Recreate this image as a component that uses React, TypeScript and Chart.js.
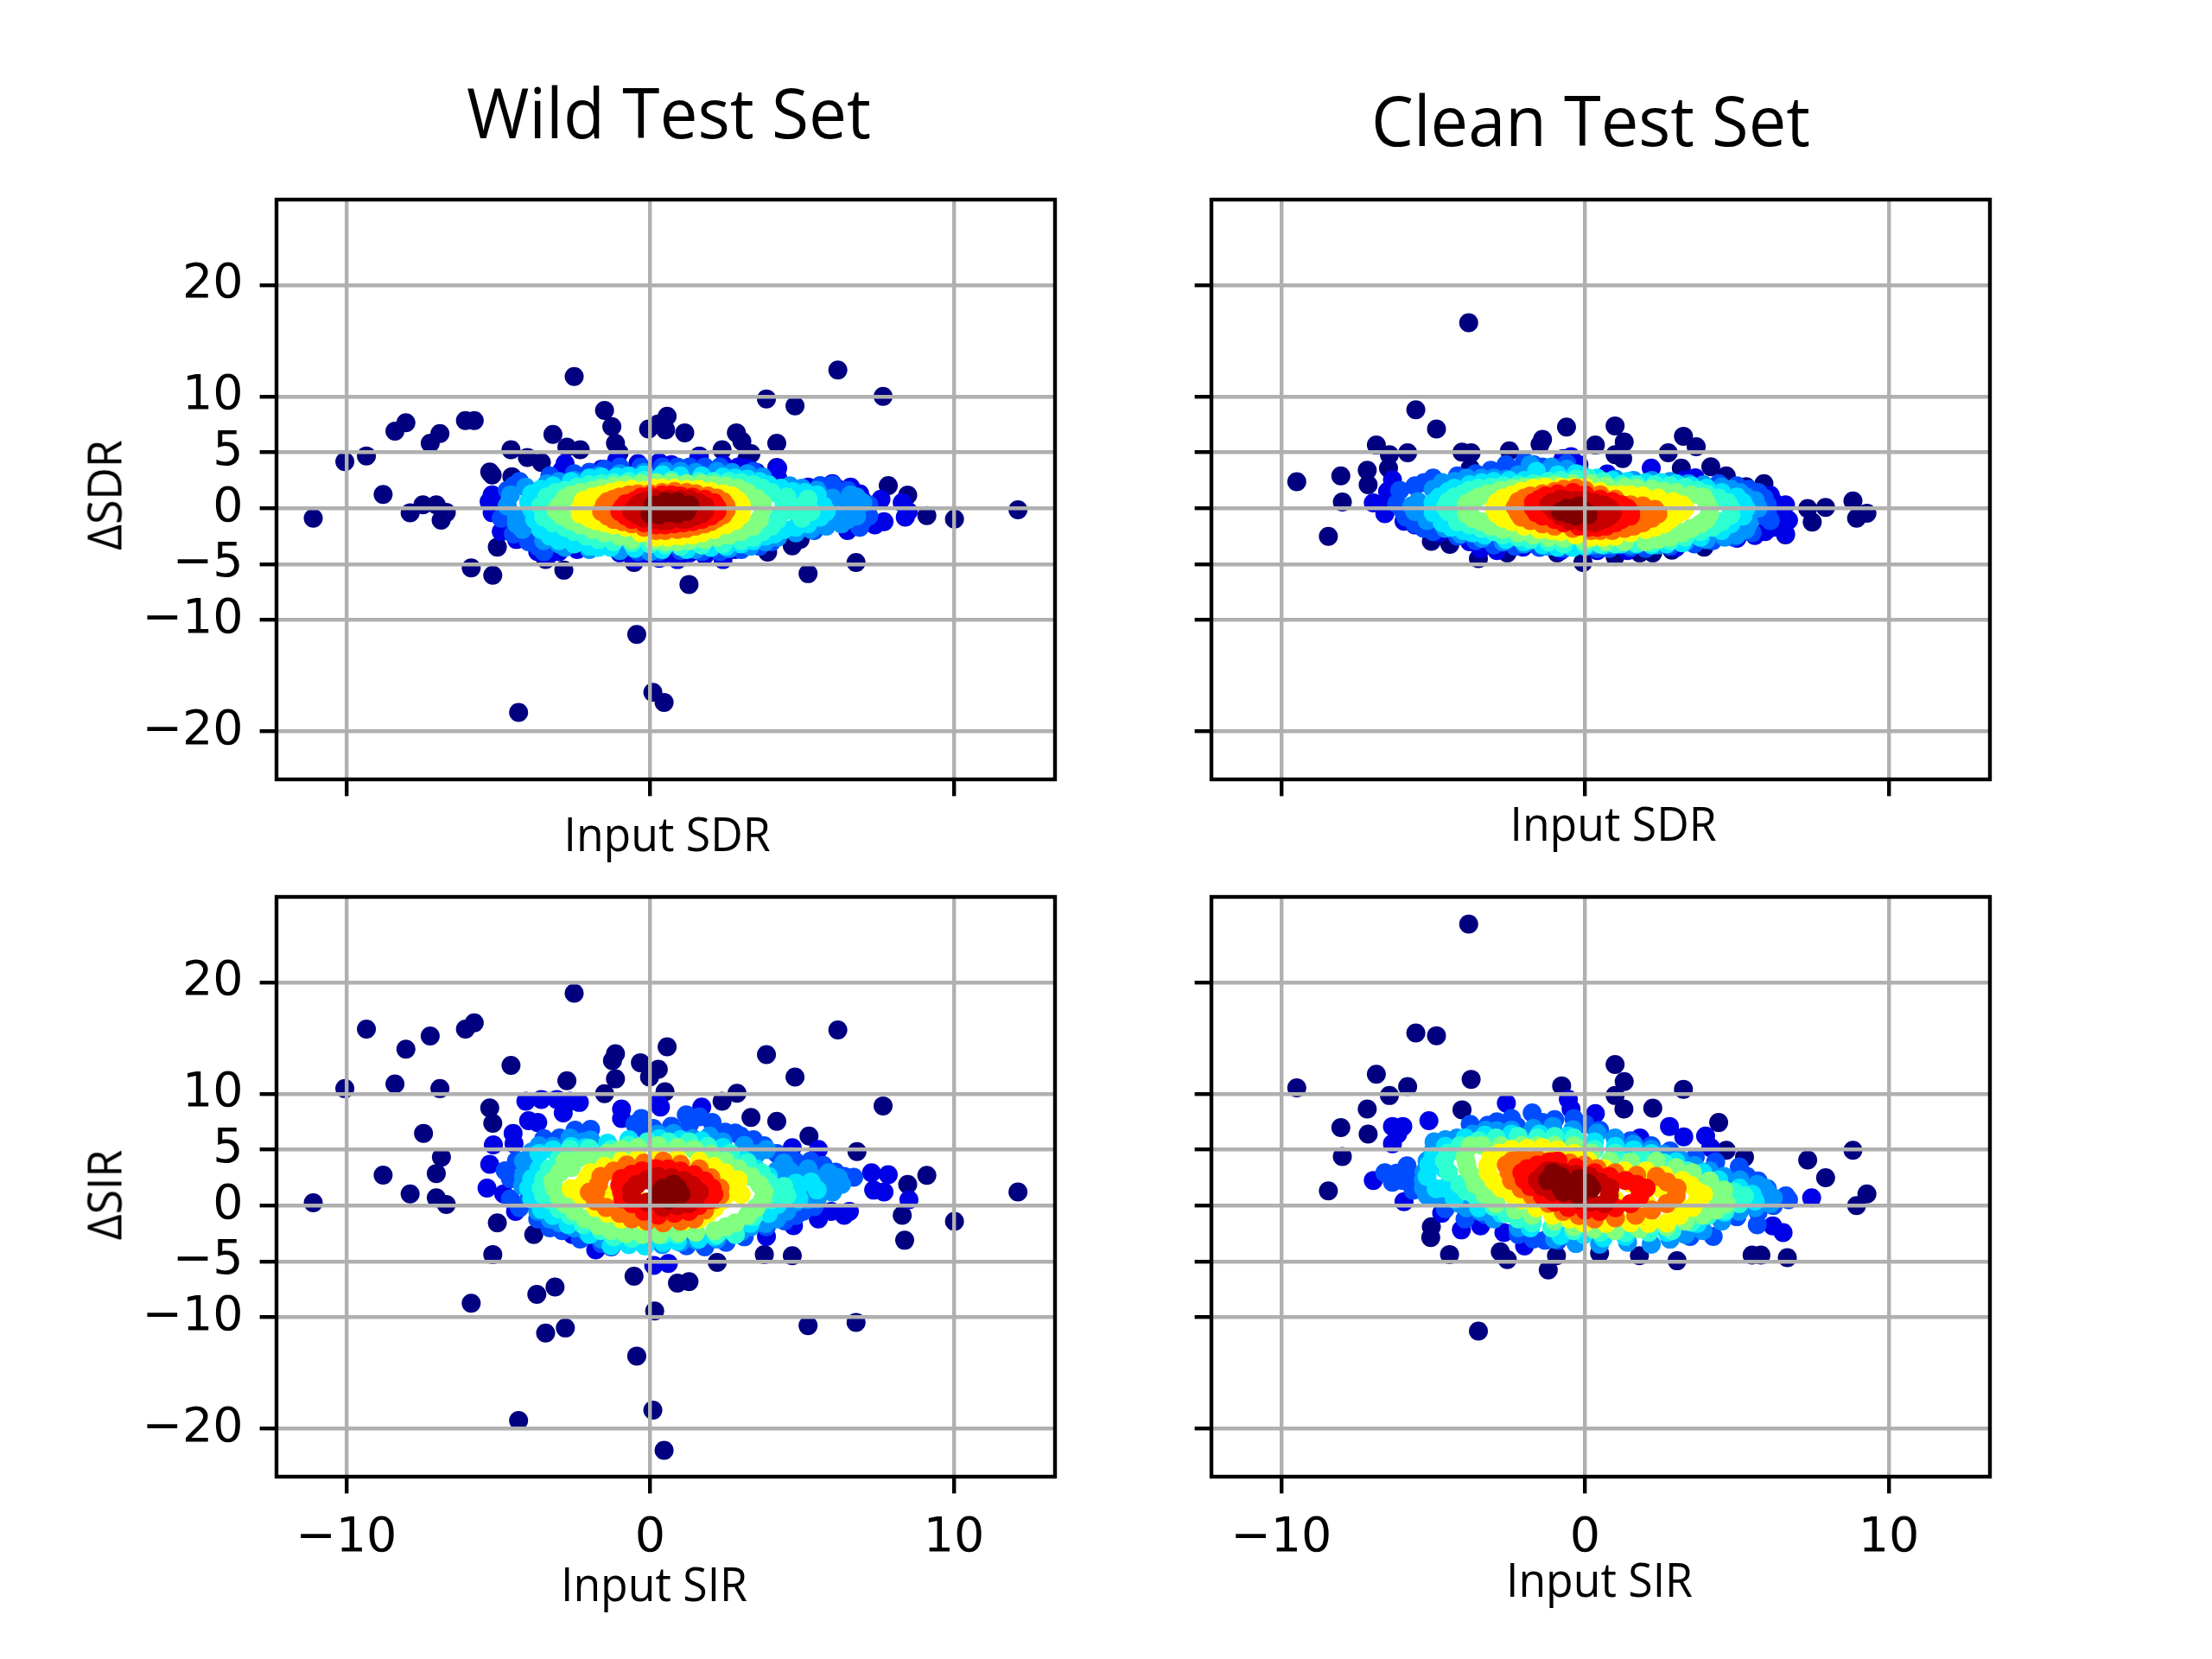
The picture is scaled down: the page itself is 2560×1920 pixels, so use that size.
import React, { useEffect, useRef } from "react";
import { Chart, registerables } from "chart.js";

Chart.register(...registerables);

const xTicks = [-10, 0, 10];
const yTicks = [-20, -10, -5, 0, 5, 10, 20];
const xRange = [-12.3, 13.33];
const yRange = [-24.3, 27.66];
const densityLevels = [0, 0.1, 0.2, 0.27, 0.35, 0.42, 0.5, 0.63, 0.77, 0.87, 0.93, 1];

// ---------- Wild / SDR ----------
const wsd0 = [[-11.09,-.9],[12.11,-.14],[10.02,-.97],[-2.5,11.8],[6.18,12.38],[7.67,10.03],[3.83,9.8],[4.77,9.17],[-1.5,8.76],[-1.26,7.31],[-8.04,7.66],[-8.4,6.9],[-6.92,6.69],[-7.24,5.83],[-6.08,7.86],[-5.79,7.86],[-9.34,4.69],[-10.05,4.17],[-8.79,1.24],[-7.9,-.41],[-7.48,.31],[-7.04,.31],[-6.71,-.38],[-6.88,-1.07],[-4.58,5.24],[-3.2,6.62],[-2.74,5.48],[-2.3,5.24],[-4.04,4.55],[-3.58,4.1],[-.05,7.1],[.26,7.55],[.56,8.24],[.51,7.03],[1.14,6.76],[1.62,4.69],[2.37,5.24],[2.84,6.76],[3.02,6],[3.32,4.9],[3.19,4.45],[4.17,5.83],[4.17,3.66],[-1.14,5.83],[-1.02,4.97],[-5.28,3.24],[-5.2,2.97],[-4.55,2.83],[7.84,2.03],[8.48,1.17],[9.11,-.66],[6.78,-4.86],[5.2,-5.86],[4.94,-2.79],[4.68,-3.38],[3.87,-3.93],[1.28,-6.83],[-.44,-11.31],[.09,-16.5],[.46,-17.4],[-4.33,-18.3],[-5.89,-5.34],[-5.18,-6],[-5.03,-3.48],[-3.44,-4.59],[-2.84,-5.55],[-.53,-4.86],[.26,-4.34],[.9,-4.5],[2.39,-4.34]];
const wsd1 = [[-5.2,1.2],[-5.3,.6],[-5.2,-.4],[-4.9,-2.1],[-3,-3.9],[-2.4,-3.7],[-2.9,3.4],[-2.8,4],[-2,3.2],[-1.1,4.3],[.3,4.1],[.7,3.9],[1.6,4.5],[2.9,3.7],[4.2,3.6],[4.2,2.7],[5.6,2],[6,2.2],[6.2,1.7],[6.9,1.3],[7.6,.8],[7.7,-1.2],[7.4,-1.5],[8.3,.5],[8.4,-.8],[8.5,-.3],[-.5,-4.6],[.3,-4.5],[.9,-4.6],[2.4,-4.6],[1.3,-4],[-3.4,-4.4],[2.8,-3.7],[-3.7,-3.9],[-4.4,-2.8],[-1,-4],[-.1,-4.3],[1.8,-4.2],[3.2,3.6],[3.5,3.2],[2.4,3.9],[-.4,4],[-1.6,3.5],[5.2,1.9],[6.6,1.9],[7,.7],[7.1,-1.1],[6.5,-2],[3.6,-3.3]];
const wsd2 = [[-4.9,-.9],[-4.5,-2.3],[-4,-3],[-3.5,-3.9],[-3.3,2.9],[-4.3,2.4],[-2,3.2],[-1,3.7],[.4,3.7],[1.3,3.7],[2.3,3.7],[3,-3.7],[4,-3],[5.6,2],[6,2.1],[6.5,1.6],[6.9,-1.7],[7.2,.3],[7.2,-.7],[1,-3.8],[-.4,-3.9],[2.3,-3.9],[-4.4,-1.6],[-3.7,-3.4],[-2.5,3.1],[-1.5,3.5],[-.3,3.7],[.9,3.7],[1.8,3.7],[3.4,3.3],[3.6,-3.4],[-4.7,1.6],[-4.5,2],[6.6,1],[7,-1.1],[5.9,1.8],[5.4,-2],[.3,-3.9],[1.7,-3.9]];
const wsd3 = [[-4.6,1.2],[-4.4,-.8],[-4.1,1.9],[-4.2,-1.9],[-3.4,2.2],[-3.5,-2.9],[-2.8,-3.5],[-2.5,2.5],[-1,3.1],[.5,3.3],[1.5,3.2],[2.2,3.3],[3.2,3.1],[3.3,-3.4],[4.2,-2.6],[5.5,1.6],[6,.9],[6,-.5],[6.3,-1.4],[6.5,.4],[6.8,-.7],[7,.5],[6.8,1],[5.8,-1.6],[-3,2.4],[-1.7,2.9],[-.2,3.2],[1,3.3],[2.7,3.2],[3.7,2.8],[4.6,2],[5,1.8],[-3,-3.2],[-2,-3.7],[-1,-3.8],[0,-3.9],[1.5,-3.7],[2.6,-3.6],[3.8,-3],[4.8,-2.2],[5.3,-1.9],[6.5,-1],[6.6,1.2],[-4.7,.2],[-4.4,-1.4]];
const wsd4 = [[-3.9,1.3],[-3.9,-.1],[-3.6,-1.9],[-3.2,2],[-3,-2.9],[-2,2.7],[-2,-3.4],[-1.1,2.8],[-1.3,-3.5],[-.2,3],[.4,-3.7],[1,2.9],[2,-3.5],[2.4,2.8],[3,-3.2],[3.2,2.6],[3.8,-2.5],[3.9,2.1],[4.4,-1.9],[4.7,1.5],[5.2,-1.4],[5.5,1.2],[5.7,.2],[5.6,-.8],[-3.6,1.7],[-2.6,2.4],[-1.6,2.8],[-.7,2.9],[.4,3],[1.7,2.9],[2.8,2.7],[3.6,2.4],[4.3,1.8],[5.1,1.4],[-3.8,-1],[-3.3,-2.5],[-2.5,-3.2],[-1.7,-3.5],[-.5,-3.6],[1.2,-3.7],[2.5,-3.4],[3.4,-2.9],[4.1,-2.3],[4.8,-1.7],[5.8,-.3],[-4,.6]];
const wsd5 = [[-3.5,-.8],[-3.6,.2],[-3.4,1],[-2.8,1.6],[-2.8,-1.7],[-2,2.1],[-2.1,-2.5],[-1.2,2.3],[-1.2,-3],[-.2,2.5],[0,-3.2],[1,-3.4],[1.6,2.4],[2.4,-3.2],[2.6,2.4],[3.4,-2.6],[3.4,2.1],[4,-1.6],[4.3,-.5],[4.4,.5],[4,1.4],[5,.2],[5,-.9],[-3.1,1.4],[-2.4,1.9],[-1.6,2.2],[-.7,2.4],[.7,2.5],[2.1,2.4],[3,2.3],[3.7,1.8],[4.5,1],[-3.2,-1.3],[-2.5,-2.1],[-1.7,-2.8],[-.6,-3.1],[.5,-3.3],[1.7,-3.3],[3,-2.9],[3.7,-2.1],[4.2,-1],[4.7,-.2],[5.2,.8],[5.3,-.3]];
const wsd6 = [[-3,.2],[-2.9,-.7],[-2.8,.9],[-2.3,1.4],[-2.3,-1.5],[-1.6,1.8],[-1.5,-2.2],[-.8,2.1],[-.6,-2.8],[.2,2.3],[.5,-3],[1.3,-2.9],[2.2,-2.6],[3,-2.1],[3.6,-1],[3.7,0],[3.5,.9],[2.9,1.8],[2.1,2.1],[1.2,2.2],[-2.6,1.2],[-1.9,1.6],[-1.2,2],[-.3,2.2],[.7,2.3],[1.7,2.2],[2.5,2],[3.2,1.4],[3.7,.4],[3.4,-1.6],[2.6,-2.4],[1.8,-2.8],[.9,-3],[.1,-2.9],[-1,-2.5],[-1.9,-1.9],[-2.6,-1.1],[-3.1,-.2]];
const wsd7 = [[-2.3,0],[-2.2,.7],[-2,-.9],[-1.6,1.2],[-1.5,-1.3],[-1,1.6],[-.8,-1.7],[-.2,1.6],[.2,-2.6],[1,-2.5],[1.7,-2.2],[2.5,-1.5],[3,-.6],[3,.3],[2.7,1.1],[2,1.5],[1.2,1.7],[.4,1.8],[-1.9,1],[-1.3,1.4],[-.6,1.7],[.1,1.8],[.8,1.8],[1.6,1.7],[2.4,1.3],[2.9,.7],[3,-.1],[2.8,-1.1],[2.1,-1.9],[1.4,-2.4],[.6,-2.6],[-.3,-2.2],[-1.2,-1.5],[-1.8,-1.1],[-2.3,-.5],[-1.5,-.2],[-1,.3],[-1,-.7],[0,.5],[0,-1],[1,.5],[1,-1],[2,0],[2.4,-.6],[2,.7],[.5,-1.7],[1.5,-1.5]];
const wsd8 = [[-1.6,-.3],[-1.5,.3],[-1.2,.8],[-1.2,-1],[-.7,1.2],[-.6,-1.4],[0,1.3],[.2,-2],[.9,-1.9],[1.5,-1.6],[2.4,-.6],[2.5,.2],[2.2,.9],[1.5,1.3],[.8,1.5],[2,-1.2],[-1.4,.6],[-1,1],[-.4,1.3],[.4,1.4],[1.2,1.4],[1.9,1.1],[2.4,.6],[2.5,-.2],[2.2,-.9],[1.8,-1.4],[1.2,-1.8],[.5,-2],[-.2,-1.7],[-.9,-1.2],[-1.4,-.7]];
const wsd9 = [[-1,-.3],[-.8,.4],[-.6,-1],[-.3,1],[.2,-1.5],[.8,-1.4],[1.4,-1.2],[2,-.7],[2.2,.1],[1.8,.8],[1,1.1],[.4,1.2],[-.9,.1],[-.5,.7],[0,1.1],[.7,1.2],[1.4,1],[2.1,.5],[2.2,-.3],[1.7,-1],[1.1,-1.3],[.5,-1.5],[-.2,-1.3],[-.8,-.7]];
const wsd10 = [[-.6,-.3],[-.4,.3],[-.2,-.9],[-.1,.7],[.4,-1.1],[.9,-.9],[1.3,.8],[1.8,.2],[1.7,-.5],[1.3,-.9],[.6,.8],[-.5,0],[-.3,.5],[.2,.8],[1,.8],[1.6,.5],[1.8,-.2],[1.5,-.7],[1.1,-1],[.6,-1.1],[.1,-1],[-.4,-.6]];
const wsd11 = [[.1,.3],[.5,.6],[.9,.6],[1.3,.3],[.5,-.4],[.9,-.2],[0,-.5],[1.2,-.3],[.4,.2],[.7,.1],[.2,-.1],[1.1,0],[.7,-.4],[.3,-.6],[.9,-.5]];

// ---------- Clean / SDR ----------
const csd0 = [[-3.83,16.62],[-5.57,8.83],[-4.89,7.1],[-.61,7.28],[.99,7.38],[1.29,5.93],[3.24,6.45],[3.66,5.52],[2.74,4.97],[.34,5.66],[-1.4,6.17],[-1.48,5.72],[-2.49,5.14],[-4.05,5.03],[-3.75,4.97],[-6.87,5.66],[-6.44,4.79],[-5.84,4.97],[-7.17,3.41],[-6.47,3.59],[-8.04,2.9],[-7.14,2.1],[-9.49,2.38],[-7.99,.55],[-8.45,-2.52],[4.65,2.9],[4.14,3.72],[3.17,3.59],[5.3,1.93],[5.89,2.2],[8.82,.66],[9.28,-.45],[8.94,-.9],[7.92,.07],[7.33,-.03],[7.48,-1.24],[-.07,-4.86],[.99,-4.34],[-3.51,-4.52],[-2.56,-4],[-5.06,-2.97],[-4.45,-3.24],[-3.78,3.59],[1.24,4.45],[.99,4.79],[3.92,-3.48],[2.86,-3.76],[2.23,-4],[1.8,-4],[-.92,-4],[6.6,-2.38]];
const csd1 = [[2.18,3.59],[.73,3.07],[3.63,2.72],[3.29,2.55],[6.1,1.17],[6.6,.3],[6.7,-1.07],[5.59,-2.45],[5.93,-2.1],[-3.44,-3.65],[-2.04,-3.48],[3.97,-2.8],[6.6,-2.3],[-.72,4.45],[-.46,4.62],[-1.86,3.93],[-2.59,3.76],[-6.34,2.55],[-6.97,.48],[-6.59,-.48],[-5.96,-1.17],[-5.32,-1.76],[-4.2,-2.45],[-1.57,-3.31],[-6.5,1.5],[-6.4,.5],[-5.6,-1.5],[-4.8,-2.2],[-3.8,-3],[-2.9,-3.8],[-.8,-3.8],[.4,-3.8],[1.4,-3.8],[3,-3.5],[5,-2.7],[6.2,-1.7],[6.4,-.5],[6.2,.6],[5.4,1.5],[-.2,3.9]];
const csd2 = [[-6.1,1.6],[-6.2,.4],[-6,-.2],[-5.6,-1.4],[-5,-2.1],[-5.6,2],[-5,2.7],[-3.6,3.1],[-2.6,3.9],[-2,4.2],[-1.4,3.7],[-.6,4],[-4.2,-2.5],[-3,-3.3],[-.7,-3.6],[2,-3.6],[3.6,-3.2],[4.4,2.2],[5,2],[5.7,1.4],[6,-.4],[6,.3],[6.1,-1.1],[5.5,-2.2],[1.1,-3.3],[.4,-3.6],[-5.3,2.3],[-4.2,2.9],[-3.1,3.4],[-1.7,3.9],[-5.9,-.8],[-5.3,-1.8],[-3.6,-2.9],[-2.3,-3.4],[-1.5,-3.5],[.8,-3.6],[1.5,-3.5],[2.8,-3.4],[4.2,-2.9],[4.9,-2.6],[5.4,1.7],[5.9,.9],[5.9,-.7]];
const csd3 = [[-5.5,.6],[-5.6,-.3],[-5.2,-1.1],[-5,1.7],[-4.6,-1.8],[-4.7,2.3],[-3.9,2.7],[-3,2.7],[-2.7,-3],[-2.6,2.6],[-1.8,3.9],[-.6,3.5],[.4,2.5],[.3,-3.3],[1.7,-3.2],[2.2,2.5],[3.3,-3],[3.9,2.1],[4.5,1.9],[5,-2.4],[5.1,1.4],[5.4,-1.3],[5.6,.7],[5.7,0],[1.5,-3.3],[-4.3,2.4],[-3.4,2.7],[-2.2,3],[-1.1,3.7],[-.1,3],[1,2.6],[1.6,2.5],[2.8,2.4],[3.4,2.2],[4.8,1.7],[5.3,1],[-4.1,-2.3],[-3.4,-2.7],[-2,-3.2],[-1.2,-3.4],[-.5,-3.4],[.9,-3.3],[2.4,-3.3],[4,-2.8],[4.6,-2.6],[5.3,-1.9],[-5.7,.2]];
const csd4 = [[-5,.5],[-5,-.4],[-4.7,-1.3],[-4.5,1.5],[-4,-2],[-3.8,2.1],[-3.3,-2.4],[-3,2.4],[-2,2.5],[-2,-3],[-1.6,3.3],[-.9,-3.5],[-.3,3.1],[0,-3.4],[1.2,-3.2],[1.4,2.4],[2.2,-3.3],[3,2.2],[3.2,-3.1],[4,1.8],[4.5,-2],[5,1],[5.2,-.7],[5.3,0],[-4.8,1],[-4.3,1.8],[-3.4,2.3],[-2.5,2.5],[-1.6,2.7],[-.9,3],[.4,2.7],[.9,2.5],[2,2.3],[2.5,2.3],[3.5,2],[4.5,1.4],[-4.4,-1.7],[-3.7,-2.2],[-2.6,-2.8],[-1.4,-3.3],[-.4,-3.5],[.6,-3.3],[1.7,-3.2],[2.7,-3.2],[3.8,-2.6],[4.8,-1.4],[5.2,.5]];
const csd5 = [[-4.5,.6],[-4.5,-.3],[-4.2,-1.2],[-4,1.3],[-3.4,-1.8],[-3.5,1.8],[-2.7,-2.4],[-2.7,2],[-1.7,2.2],[-1.8,-2.8],[-.8,2.5],[-.7,-3.2],[.1,2.7],[.5,-3.2],[1.2,2.1],[2.3,2.1],[2.2,-3.1],[3.3,1.9],[3.3,-2.6],[4,1.3],[4.2,-1.7],[4.7,.5],[4.8,-.6],[-4.3,1],[-3.8,1.6],[-3.1,1.9],[-2.2,2.1],[-1.2,2.4],[-.3,2.6],[.6,2.4],[1.7,2.1],[2.8,2],[3.7,1.6],[4.4,.9],[4.8,0],[4.5,-1.2],[3.8,-2.1],[2.8,-2.9],[1.7,-3.1],[1,-3.2],[0,-3.2],[-1.2,-3],[-2.2,-2.6],[-3,-2.1],[-3.8,-1.5],[-4.6,.1]];
const csd6 = [[-3.9,.4],[-3.9,-.5],[-3.5,1],[-3.4,-1.2],[-2.8,1.6],[-2.7,-1.9],[-2,1.9],[-1.7,-2.4],[-1,2.1],[-.7,-2.7],[.2,2.2],[.7,-3],[1.3,1.9],[2,-3],[2.2,1.7],[2.8,-2.6],[3,1.4],[3.5,-1.8],[3.9,1],[4,-1],[4.1,0],[-3.7,.7],[-3.2,1.3],[-2.4,1.8],[-1.5,2],[-.4,2.2],[.7,2],[1.7,1.8],[2.6,1.5],[3.5,1.2],[4,.5],[4.1,-.5],[3.8,-1.4],[3.2,-2.2],[2.4,-2.8],[1.3,-3],[0,-2.9],[-1.2,-2.6],[-2.2,-2.2],[-3.1,-1.6],[-3.7,-.9]];
const csd7 = [[-2.9,.5],[-2.9,-.5],[-2.4,1.2],[-2.4,-1.2],[-1.7,1.8],[-1.5,-1.9],[-.8,1.9],[-.8,-2.1],[0,1.9],[.2,-2.6],[.9,1.2],[1,-2.5],[1.9,1.1],[2,-1.9],[2.9,.6],[3,-.6],[3.3,0],[2.6,-1.4],[1.5,1.2],[-2.7,.9],[-2.1,1.5],[-1.3,1.9],[-.4,1.9],[.5,1.5],[1.2,1.2],[2.4,.9],[3.2,.3],[3.2,-.3],[2.8,-1],[2.3,-1.7],[1.5,-2.2],[.6,-2.6],[-.3,-2.4],[-1.1,-2],[-2,-1.6],[-2.7,-.9],[-3,0],[-2,.3],[-2,-.5],[-1,.8],[-1,-.8],[0,1],[0,-1],[1,.3],[1,-1],[2,.3],[2.5,-.5],[1.8,-.9],[-.3,-1.5],[.6,-1.5]];
const csd8 = [[-2.2,.6],[-2.2,-.4],[-1.8,1.1],[-1.8,-1.1],[-1,1.5],[-1,-1.6],[-.3,1.8],[.2,-2],[.9,-2],[1.6,-1.6],[2.2,-.9],[2.3,-.1],[1.5,.3],[.5,1.2],[-2.3,.1],[-2,.9],[-1.4,1.3],[-.7,1.7],[0,1.6],[1,.8],[1.9,.2],[2.4,-.5],[1.9,-1.3],[1.3,-1.8],[.5,-2],[-.4,-1.8],[-1.4,-1.4],[-2.1,-.8]];
const csd9 = [[-1.7,.5],[-1.6,-.4],[-1.3,1.1],[-1,-1],[-.4,1.4],[.1,-1.7],[.7,-1.6],[1.2,-1],[1.5,-.4],[1.2,.3],[.5,.8],[-1.7,0],[-1.5,.8],[-.9,1.3],[0,1.2],[.9,.6],[1.4,0],[1.5,-.7],[1,-1.3],[.4,-1.7],[-.2,-1.6],[-.7,-1.3],[-1.4,-.7]];
const csd10 = [[-1.2,.3],[-1,-.2],[-.8,.8],[-.5,-1.1],[0,.7],[.3,-1.3],[.7,-.9],[.9,-.4],[.6,.3],[-.6,.7],[-1.1,.5],[-.3,.7],[.3,.5],[.8,0],[.8,-.7],[.5,-1.1],[-.1,-1.2],[-.8,-.7],[-1.1,.1]];
const csd11 = [[-.6,0],[-.5,-.5],[-.2,.2],[0,-.3],[.1,-.6],[-.3,-.7],[-.3,-.2],[-.8,-.3]];

// ---------- Wild / SIR ----------
const wsi0 = [[-2.5,19.03],[6.18,15.74],[-9.34,15.81],[-7.24,15.19],[-8.04,14.01],[-6.08,15.81],[-5.79,16.37],[-4.58,12.56],[-1.14,13.6],[-1.24,12.98],[-.32,12.8],[.27,12.21],[-.02,11.52],[.56,14.22],[3.83,13.53],[4.77,11.52],[-1.14,11.35],[-2.74,11.18],[-10.05,10.48],[-8.4,10.9],[-6.92,10.48],[-1.5,10.03],[.49,10.2],[2.37,9.34],[2.86,10.07],[-5.28,8.75],[-5.18,7.37],[7.67,8.93],[-7.46,6.47],[-6.87,4.33],[-7.04,2.87],[-8.79,2.73],[-7.9,1.04],[-7.04,.69],[-6.71,.1],[-11.09,.24],[12.11,1.21],[10.02,-1.42],[9.11,2.7],[6.81,4.84],[8.48,1.9],[8.3,-.87],[8.38,-3.11],[-5.03,-1.56],[-3.83,-2.6],[-5.18,-4.39],[-5.89,-8.75],[-3.73,-7.96],[-3.13,-7.3],[-3.44,-11.42],[-2.79,-10.97],[-4.33,-19.27],[.09,-18.34],[.46,-21.94],[-.44,-13.49],[.15,-9.45],[-.53,-6.33],[.9,-6.96],[1.28,-6.82],[2.21,-5.09],[3.76,-4.39],[4.68,-4.5],[5.2,-10.76],[6.78,-10.48],[3.32,7.89],[4.17,7.54],[5.23,6.23]];
const wsi1 = [[-4.09,9.34],[-3.58,9.5],[-3.07,9.5],[-2.64,9.34],[-2.33,9.24],[-2.86,8.3],[-4,7.6],[-3.7,7.44],[-.94,8.65],[-.94,7.79],[.26,9.17],[.34,8.82],[1.7,8.82],[-4.51,6.47],[-5.16,5.43],[-4.48,5.54],[-5.28,3.7],[-5.37,1.56],[-4.82,1.04],[-4.43,-.52],[5.54,5.02],[4.68,5.19],[7.29,2.94],[7.84,2.77],[7.36,1.38],[7.7,1.21],[8.52,.52],[5.54,-1.21],[6.39,-.87],[6.56,-.52],[5.96,-.52],[-1.79,-3.98],[.12,-5.36],[.6,-5.19],[-1.28,-3.7],[3.83,-2.77],[-2.56,-2.6],[4.72,-1.8]];
const wsi2 = [[1.19,8.13],[1.62,7.96],[2.04,7.44],[-.29,7.79],[-.17,6.75],[2.47,6.57],[2.98,6.23],[3.75,5.36],[4.17,4.67],[-2.98,6.06],[-2.47,6.75],[-1.96,6.82],[-4.77,3.11],[5.28,3.98],[6.39,2.6],[6.7,2.53],[-4,.52],[-2.9,-2.25],[3.83,-1.9],[4.43,-1.38],[5.03,-.52],[-3.5,6],[-3.2,5.6],[.1,6.9],[.7,7.1],[1.3,7.3],[2.8,6.5],[3.4,5.9],[-.5,7.3],[-4.6,2.4],[-4.4,4],[-4.6,.6],[-4.3,-.2],[-3.7,-1.2],[-3.3,-2],[-2.3,-3],[-1.6,-3.4],[1.2,-3.6],[1.8,-3.7],[2.5,-3.3],[3.1,-2.8],[4.8,-.9],[5.4,-.1],[5.9,2.2],[6.1,3],[4.8,3.9],[4.6,4.4],[5.7,3.6]];
const wsi3 = [[.26,6.4],[.77,6.47],[1.96,6.23],[2.39,5.71],[-2.64,6.06],[-1.96,5.88],[-3.66,5.36],[-4.17,3.98],[-4.17,2.6],[4.17,3.11],[4.86,2.6],[5.2,3.29],[5.45,2.42],[5.88,2.94],[6.3,1.9],[5.54,1.21],[5.2,.52],[3.83,5.02],[1.53,-3.11],[-2.98,-1.56],[-2.13,-2.25],[4.17,-1.21],[3.32,-1.9],[.6,5.9],[1.4,6],[-3.2,5.3],[-2.2,5.7],[-3.9,4.8],[-4.1,3.3],[-4.2,1.8],[-3.9,.6],[-3.7,-.5],[-3.3,-1.2],[-2.5,-2],[-1.6,-3],[-.7,-3.3],[.4,-3.5],[1,-3.3],[2.2,-3],[3,-2.3],[3.8,-1.6],[4.5,-.5],[4.8,.3],[5.5,.6],[6,1.2],[6.2,2.5],[5.9,2],[4.6,3.1],[4.4,3.8],[3.1,5.4],[3.5,4.6],[5,1.5],[4.5,2.4]];
const wsi4 = [[-3.66,4.67],[-2.13,5.19],[2.98,4.33],[3.49,3.29],[4.86,1.56],[4.51,.87],[2.13,-2.77],[.43,-3.29],[-.17,-3.63],[-3.58,-.35],[-4,1.56],[-3.66,3.29],[-1.28,-3.63],[-3.9,2.4],[-3.2,5],[-2.6,5.3],[-1.4,5.6],[-.7,5.9],[.3,6],[1,5.9],[1.7,5.8],[2.4,5.2],[3.2,3.9],[3.9,2.6],[4.4,1.7],[4.8,2],[5.3,2.1],[5.5,1.4],[4.9,.6],[-3.9,.6],[-3.2,-.9],[-2.7,-1.7],[-2,-2.6],[-.7,-3.5],[.9,-3.2],[1.6,-3],[2.7,-2.3],[3.3,-1.6],[3.9,-.7],[4.2,.1]];
const wsi5 = [[-3.58,1.56],[-3.32,3.29],[-2.64,5.02],[-1.28,5.02],[-.09,5.71],[1.28,5.71],[2.64,4.67],[3.66,2.94],[4.17,1.21],[4,.52],[2.81,-2.6],[1.45,-2.25],[.43,-2.6],[-.6,-2.94],[-1.62,-2.25],[-2.64,-.87],[-3.32,.52],[-3.5,2.4],[-3,4.2],[-2,5.1],[-.7,5.4],[.6,5.7],[1.9,5.3],[3.2,3.8],[3.9,2.1],[3.4,-1],[2.2,-2.6],[.9,-2.6],[-1.2,-2.8],[-2.2,-1.7],[-3,-.3],[-3.5,.9],[4.5,.9],[4.4,1.7]];
const wsi6 = [[-2.81,3.98],[-1.96,4.33],[-.94,5.02],[.26,5.36],[1.45,5.02],[2.47,3.98],[3.32,2.6],[3.75,1.21],[3.49,-.17],[2.81,-1.56],[2.13,-2.25],[.94,-2.42],[-.26,-2.6],[-1.28,-2.25],[-2.13,-1.21],[-2.81,.17],[-3.15,1.56],[-2.98,2.94],[-3.2,2.2],[-2.6,3.4],[-2.4,4.2],[-1.4,4.7],[-.4,5.2],[.9,5.2],[2,4.6],[2.9,3.3],[3.6,1.9],[3.7,.5],[3.2,-.9],[2.5,-1.9],[1.5,-2.4],[.3,-2.6],[-.8,-2.5],[-1.7,-1.8],[-2.5,-.5],[-3,.8]];
const wsi7 = [[-2.21,1.9],[-1.96,2.94],[-.94,3.98],[.26,4.33],[1.62,3.98],[2.47,2.94],[2.64,1.21],[2.13,-.17],[1.62,-1.21],[.43,-1.56],[-.94,-1.21],[-1.79,-.17],[-2.3,1],[-2.1,2.4],[-1.5,3.5],[-.4,4.2],[.9,4.2],[2.1,3.5],[2.6,2.1],[2.4,.5],[1.9,-.7],[1.1,-1.4],[-.2,-1.4],[-1.4,-.7],[-2,.5],[3,1],[2.9,2.3],[-2.6,1.5],[-1.5,1],[-1,0],[0,0],[1,0],[2,1],[1.9,2],[-1,2.5],[0,3],[1,3],[-.5,1],[.5,1.5],[1.5,.5]];
const wsi8 = [[-1.79,1.21],[-1.62,2.6],[-.77,3.63],[.43,3.98],[1.62,3.29],[2.3,1.56],[2.13,.52],[1.45,-1.21],[.43,-1.56],[-.6,-1.21],[-1.45,-.17],[-1.8,.4],[-1.7,1.9],[-1.2,3.1],[-.2,3.8],[1,3.7],[2,2.5],[2.3,.9],[1.8,-.4],[1,-1.4],[-.1,-1.4],[-1,-.7],[-2,1.2]];
const wsi9 = [[-.94,1.21],[-.94,2.42],[-.26,3.11],[.6,3.29],[1.45,2.77],[2.04,1.56],[1.96,.52],[1.28,-.52],[.26,-.87],[-.6,.17],[-1,1.8],[-.6,2.8],[.2,3.3],[1,3.1],[1.8,2.2],[2.1,1],[1.6,0],[.8,-.7],[-.2,-.5],[-.9,.6]];
const wsi10 = [[-.6,.87],[-.43,1.9],[.26,2.6],[1.11,2.25],[1.62,1.21],[1.28,.17],[.43,-.17],[-.6,1.4],[-.1,2.3],[.7,2.5],[1.4,1.8],[1.5,.7],[.9,0],[-.1,.3]];
const wsi11 = [[.26,.87],[.43,1.56],[.77,1.9],[1.02,1.04],[.6,.52],[.6,1.2],[.9,1.6],[.3,1.2]];

// ---------- Clean / SIR ----------
const csi0 = [[-3.83,25.22],[-5.57,15.47],[-4.89,15.22],[.99,12.63],[1.29,11.11],[-6.87,11.76],[-3.75,11.31],[-9.49,10.55],[-5.84,10.66],[-6.44,9.86],[-.77,10.73],[3.24,10.42],[.99,9.86],[1.28,8.65],[2.23,8.72],[-4.05,8.58],[-7.17,8.65],[-8.04,6.99],[-7.14,6.4],[4.4,7.44],[-7.99,4.39],[-8.45,1.31],[8.82,4.95],[7.33,4.08],[7.92,2.49],[9.28,1.04],[8.94,0],[6.66,-4.67],[5.5,-4.43],[5.79,-4.43],[5.25,4.33],[4.65,4.95],[3.03,-4.95],[1.79,-4.5],[.48,-4.26],[-1.21,-5.78],[-2.56,-4.84],[-4.46,-4.39],[-5.08,-2.87],[-5.06,-1.9],[-3.51,-11.25],[-2.79,-4.15],[-.94,-4.5]];
const csi1 = [[-2.59,9.17],[-.55,9.52],[-.46,8.65],[.34,8.24],[-5.14,7.61],[-6.34,7.09],[-6,7.09],[-6.17,6.4],[-6.34,5.54],[2.78,7.09],[3.25,6.16],[3.97,6.23],[4.14,5.19],[1.81,6.06],[-6.97,2.25],[-5.96,.35],[7.46,.69],[6.52,-2.42],[6.18,-1.83],[-1.99,-3.63],[-2.67,-2.42],[-4.07,-2.18],[-3.44,-1.83],[-4.72,-.69]];
const csi2 = [[-1.74,8.3],[-2.42,7.79],[-3.78,7.27],[-6.59,2.94],[-6.34,2.08],[-6,2.25],[-5.86,3.56],[-5.66,1.38],[5.67,-1.73],[5.08,3.46],[5.33,2.6],[3.63,4.33],[2.18,5.36],[-1.4,7.44],[-2.25,7.09],[-.37,7.79],[.48,6.75],[-.89,-3.11],[-1.31,-3.11],[4.22,-2.77],[3.46,-2.77],[6.1,.87],[6.61,.87],[6.7,.52],[-3.95,-1.21],[-6.2,2.9],[-5.7,2.6],[-2.9,7.5],[-3.2,7.2],[-1,7.7],[0,7.3],[1.5,5.8],[2.8,4.9],[4.3,3.9],[-3.3,-.8],[-4.6,-.3],[-2.2,-2.6],[-1.7,-3],[2.8,-3],[5,-1],[5.7,-.6],[6.2,0],[6,1.5],[5.7,2.2]];
const csi3 = [[-4.97,5.71],[-4.21,6.06],[-3.27,6.75],[-2.42,6.75],[-1.06,7.09],[.99,6.06],[2.18,5.02],[3.12,4.15],[-5.32,2.25],[-5.32,1.56],[-4.63,1.04],[-4.12,.17],[-3.44,-.52],[2.18,-3.46],[.48,-3.46],[4.57,2.6],[5.67,1.9],[6.01,1.21],[6.1,.17],[5.08,-.52],[3.88,-2.25],[-4.6,5.9],[-3.7,6.4],[-2.9,6.7],[-1.7,6.9],[-.4,6.8],[.4,6.5],[1.6,5.5],[2.6,4.6],[3.6,3.6],[4.1,3.1],[5.1,2.3],[5.9,1.6],[6.2,.7],[5.6,-.2],[4.5,-1.4],[3.3,-2.6],[2.8,-3],[1.4,-3.3],[-.3,-3.4],[-1,-3],[-2.2,-2],[-3,-1.2],[-3.9,-.2],[-4.9,.9],[-5.2,.9],[-5.3,3],[-5.2,4],[-5,4.9]];
const csi4 = [[-5.14,3.63],[-4.63,3.29],[-4.63,1.56],[-3.95,6.06],[-2.42,6.4],[-.55,6.23],[.31,5.71],[2.18,4.67],[3.88,2.94],[5.08,1.56],[-2.76,-.69],[1.33,-2.77],[-.03,-2.6],[-5,4.4],[-4.6,5.3],[-3.3,6.3],[-1.5,6.4],[1,5.3],[1.6,5],[3,3.9],[4.4,2.3],[5.5,1],[5.6,.4],[4.6,-.6],[3.7,-1.6],[2.7,-2.4],[.6,-2.9],[-.8,-2.7],[-1.8,-2],[-3.5,-.2],[-4.3,.6],[-4.9,1.5],[-5.2,2.6]];
const csi5 = [[-4.63,3.98],[-4.12,5.36],[-2.93,6.06],[-1.57,6.06],[-.37,6.06],[.31,5.02],[1.84,4.33],[3.37,3.11],[4.91,1.21],[5.25,.87],[5.08,.17],[4.05,-.87],[2.86,-2.25],[1.33,-2.42],[-.37,-2.25],[-1.74,-1.56],[-2.59,-.69],[-3.61,.87],[-4.12,1.9],[-4.5,3],[-4.5,4.7],[-3.5,5.8],[-2.2,6.2],[-1,6.2],[1,4.7],[2.6,3.8],[4.1,2.2],[4.6,.7],[4.6,-.4],[3.5,-1.5],[2.1,-2.4],[.5,-2.4],[-1.1,-2],[-2.2,-1.2],[-3,-.1],[-3.9,1.3]];
const csi6 = [[-3.95,4.33],[-3.78,5.36],[-2.76,5.36],[-1.57,5.36],[-.37,5.36],[.82,3.98],[2.35,3.98],[3.54,2.94],[4.57,1.38],[4.65,.17],[3.88,-.87],[2.69,-1.9],[.99,-2.25],[-.37,-1.9],[-1.74,-.87],[-2.93,.17],[-3.61,1.9],[-3.87,3.29],[-3.9,3.8],[-3.4,5.4],[-2.1,5.4],[-1,5.4],[.2,4.7],[1.5,3.9],[3,3.4],[4.1,2.2],[4.3,.8],[4.3,-.4],[3.3,-1.4],[1.8,-2.1],[.3,-2.1],[-1,-1.4],[-2.3,-.4],[-3.3,1],[-3.7,2.6]];
const csi7 = [[-3.1,4.33],[-2.42,5.02],[-1.4,5.19],[-.37,4.67],[.65,3.29],[2.01,3.11],[3.2,2.25],[3.71,1.21],[3.54,-.17],[2.69,-1.56],[1.5,-1.56],[-.03,-1.56],[-1.06,-.87],[-2.08,.52],[-2.76,1.56],[-3.19,2.94],[-3.2,3.6],[-2.8,4.7],[-1.9,5.1],[-.9,5],[.1,4],[1.3,3.1],[2.6,2.7],[3.5,1.8],[3.7,.5],[3.1,-.9],[2.1,-1.6],[.7,-1.6],[-.5,-1.2],[-1.6,-.2],[-2.4,1],[-3,2.2],[3.9,1],[-2.5,3],[-1.5,3.5],[-.5,3],[.5,2.3],[1.5,2],[2.5,1.5],[3,.5],[2,.3],[1,.5],[0,.3],[-1,1],[-2,2],[-.5,-.5],[1,-.8],[2,-.8]];
const csi8 = [[-2.59,3.63],[-2.08,4.33],[-1.06,3.98],[-.03,3.63],[.99,2.94],[2.35,2.6],[3.03,1.56],[2.69,.17],[1.67,-.87],[.31,-1.21],[-.72,-.52],[-1.74,.87],[-2.42,2.25],[-2.5,3],[-2.4,4],[-1.6,4.2],[-.5,3.8],[.4,3.3],[1.7,2.7],[2.7,2.1],[3,.9],[2.2,-.4],[1,-1.1],[-.2,-.9],[-1.2,.2],[-2.1,1.5]];
const csi9 = [[-2.08,2.94],[-1.57,3.63],[-.89,3.98],[.31,2.94],[1.33,2.25],[2.01,1.56],[1.5,.17],[.48,-.52],[-.55,-.17],[-1.4,.87],[-1.9,3.3],[-1.2,3.9],[-.3,3.4],[.8,2.6],[1.7,1.9],[1.8,.8],[1,-.2],[0,-.4],[-1,.3],[-1.8,1.7],[-2,2.3]];
const csi10 = [[-1.57,2.25],[-1.23,3.11],[-.72,2.94],[.14,2.6],[.82,1.56],[.65,.17],[-.2,.52],[-1.06,1.21],[-1.4,2.7],[-1,3.1],[-.3,2.8],[.5,2.1],[.8,.9],[.2,.3],[-.6,.9],[-1.4,1.7]];
const csi11 = [[-1.23,2.25],[-1.06,2.94],[-.55,1.9],[-.2,2.42],[.22,1.56],[-.2,.87],[-.72,1.21],[-.8,2.6],[-.8,1.6],[-.4,1.3],[.1,2]];

const wildSdr = [wsd0, wsd1, wsd2, wsd3, wsd4, wsd5, wsd6, wsd7, wsd8, wsd9, wsd10, wsd11];
const cleanSdr = [csd0, csd1, csd2, csd3, csd4, csd5, csd6, csd7, csd8, csd9, csd10, csd11];
const wildSir = [wsi0, wsi1, wsi2, wsi3, wsi4, wsi5, wsi6, wsi7, wsi8, wsi9, wsi10, wsi11];
const cleanSir = [csi0, csi1, csi2, csi3, csi4, csi5, csi6, csi7, csi8, csi9, csi10, csi11];

const PAD_L = 240;
const PAD_T = 10;
const PAD_R = 10;
const AXIS_H = 130;
const panels = [
  { levels: wildSdr, l: 320, r: 1222, t: 230, b: 902, showX: false, showY: true },
  { levels: cleanSdr, l: 1402, r: 2304, t: 230, b: 902, showX: false, showY: false },
  { levels: wildSir, l: 320, r: 1222, t: 1037, b: 1709, showX: true, showY: true },
  { levels: cleanSir, l: 1402, r: 2304, t: 1037, b: 1709, showX: true, showY: false },
];

const labels = [
  { text: "Wild Test Set", x: 774, y: 129, size: 80, sx: 0.98, rot: 0 },
  { text: "Clean Test Set", x: 1841, y: 138, size: 80, sx: 0.97, rot: 0 },
  { text: "Input SDR", x: 772, y: 963, size: 55, sx: 0.94, rot: 0 },
  { text: "Input SDR", x: 1867, y: 951, size: 55, sx: 0.94, rot: 0 },
  { text: "Input SIR", x: 757, y: 1831, size: 55, sx: 0.94, rot: 0 },
  { text: "Input SIR", x: 1851, y: 1826, size: 55, sx: 0.94, rot: 0 },
  { text: "ΔSDR", x: 119, y: 573, size: 55, sx: 0.94, rot: -90 },
  { text: "ΔSIR", x: 119, y: 1383, size: 55, sx: 0.94, rot: -90 },
];

const clamp = (v: number) => Math.max(0, Math.min(1, v));
function jet(v: number): string {
  const r = clamp(Math.min(4 * v - 1.5, -4 * v + 4.5));
  const g = clamp(Math.min(4 * v - 0.5, -4 * v + 3.5));
  const b = clamp(Math.min(4 * v + 0.5, -4 * v + 2.5));
  return `rgb(${Math.round(r * 255)},${Math.round(g * 255)},${Math.round(b * 255)})`;
}

const fmt = (v: number) => (v < 0 ? "\u2212" + Math.abs(v) : String(v));

const spines = {
  id: "spines",
  afterDraw(chart: any) {
    const { ctx, chartArea: a } = chart;
    ctx.save();
    ctx.strokeStyle = "#000";
    ctx.lineWidth = 4.4;
    ctx.strokeRect(a.left, a.top, a.right - a.left, a.bottom - a.top);
    ctx.restore();
  },
};

function Panel({ p }: { p: (typeof panels)[number] }) {
  const ref = useRef<HTMLCanvasElement>(null);
  useEffect(() => {
    const font = { family: "'DejaVu Sans'", size: 55.5 };
    const tick = { color: "#b0b0b0", lineWidth: 4.4, tickColor: "#000", tickLength: 19.4, tickWidth: 4.4, z: 1 };
    const chart = new Chart(ref.current as HTMLCanvasElement, {
      type: "scatter",
      data: {
        datasets: p.levels
          .map((pts, i) => ({
            data: pts.map(([x, y]) => ({ x, y })),
            backgroundColor: jet(densityLevels[i]),
            borderWidth: 0,
            pointRadius: 11,
            pointHoverRadius: 11,
          }))
          .reverse(),
      },
      options: {
        responsive: false,
        animation: false,
        events: [],
        layout: { padding: { left: 0, top: PAD_T, right: PAD_R, bottom: 0 } },
        plugins: { legend: { display: false }, tooltip: { enabled: false } },
        scales: {
          x: {
            type: "linear",
            min: xRange[0],
            max: xRange[1],
            grid: tick,
            border: { display: false },
            afterBuildTicks: (s: any) => { s.ticks = xTicks.map((value) => ({ value })); },
            afterFit: (s: any) => { s.height = AXIS_H; s.paddingLeft = 0; s.paddingRight = 0; },
            ticks: {
              color: "#000",
              font,
              padding: 19,
              autoSkip: false,
              maxRotation: 0,
              minRotation: 0,
              callback: (v: any) => (p.showX ? fmt(Number(v)) : ""),
            },
          },
          y: {
            type: "linear",
            min: yRange[0],
            max: yRange[1],
            grid: tick,
            border: { display: false },
            afterBuildTicks: (s: any) => { s.ticks = yTicks.map((value) => ({ value })); },
            afterFit: (s: any) => { s.width = PAD_L; s.paddingTop = 0; s.paddingBottom = 0; },
            ticks: {
              color: "#000",
              font,
              padding: 19,
              autoSkip: false,
              callback: (v: any) => (p.showY ? fmt(Number(v)) : ""),
            },
          },
        },
      },
      plugins: [spines],
    } as any);
    return () => chart.destroy();
  }, [p]);
  return (
    <canvas
      ref={ref}
      width={p.r - p.l + PAD_L + PAD_R}
      height={p.b - p.t + PAD_T + AXIS_H}
      style={{ position: "absolute", left: p.l - PAD_L, top: p.t - PAD_T }}
    />
  );
}

export default function App() {
  return (
    <div style={{ position: "absolute", left: 0, top: 0, width: 2560, height: 1920, overflow: "hidden", background: "#fff" }}>
      {panels.map((p, i) => (
        <Panel key={i} p={p} />
      ))}
      {labels.map((t, i) => (
        <div
          key={i}
          style={{
            position: "absolute",
            left: t.x,
            top: t.y,
            transform: `translate(-50%,-50%) rotate(${t.rot}deg) scaleX(${t.sx})`,
            fontFamily: "'Open Sans'",
            fontSize: t.size,
            lineHeight: 1,
            whiteSpace: "nowrap",
            color: "#000",
          }}
        >
          {t.text}
        </div>
      ))}
    </div>
  );
}
